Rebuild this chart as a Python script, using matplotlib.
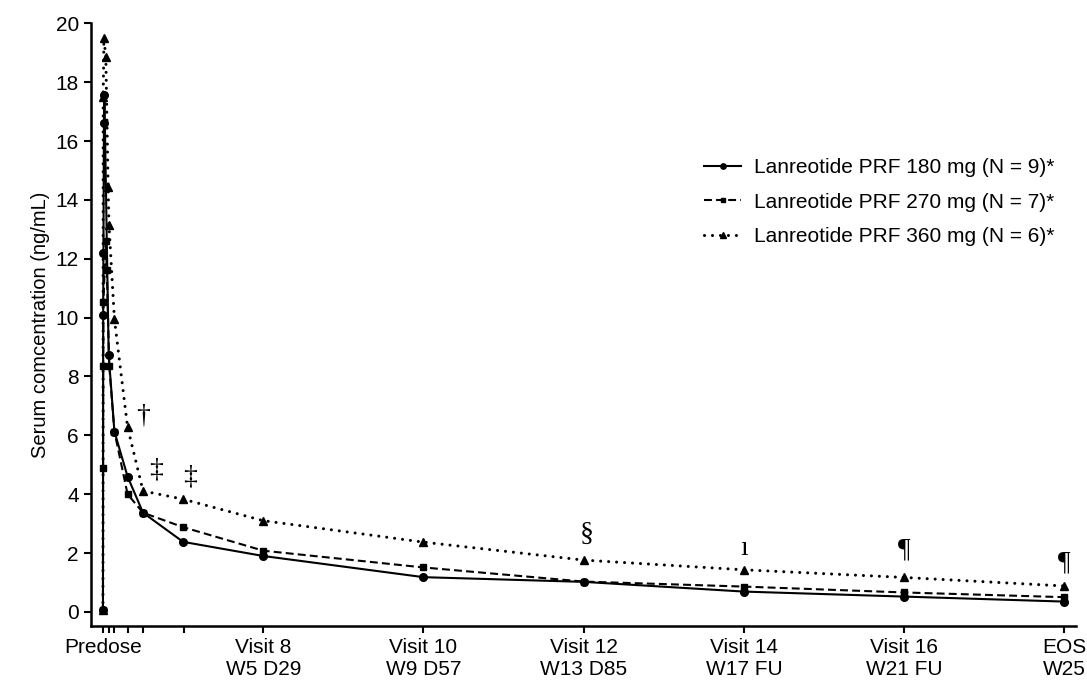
import matplotlib.pyplot as plt

plt.rcParams['font.family'] = ['Liberation Sans', 'DejaVu Sans']

# time in days after dose (0 = predose)
t_180 = [0, 0.04, 0.08, 0.17, 0.25, 1, 2, 4.3, 7, 14, 28, 56, 84, 112, 140, 168]
c_180 = [0.05, 10.1, 12.2, 16.6, 17.57, 8.73, 6.13, 4.6, 3.37, 2.38, 1.9, 1.18, 1.02, 0.69, 0.52, 0.35]

t_270 = [0, 0.02, 0.04, 0.08, 0.5, 0.67, 1.1, 2, 4.3, 7, 14, 28, 56, 84, 112, 140, 168]
c_270 = [0.07, 4.9, 8.36, 10.54, 12.62, 11.62, 8.36, 6.13, 4.0, 3.37, 2.88, 2.08, 1.51, 1.03, 0.86, 0.66, 0.5]

t_360 = [0, 0.04, 0.17, 0.5, 0.9, 1.05, 2, 4.3, 7, 14, 28, 56, 84, 112, 140, 168]
c_360 = [0.05, 17.5, 19.49, 18.85, 14.43, 13.15, 9.95, 6.28, 4.11, 3.83, 3.1, 2.37, 1.76, 1.43, 1.17, 0.88]

labels = ['Lanreotide PRF 180 mg (N = 9)*',
          'Lanreotide PRF 270 mg (N = 7)*',
          'Lanreotide PRF 360 mg (N = 6)*']

tick_pos = [0, 1, 2, 4.3, 7, 14.2, 28, 56, 84, 112, 140, 168]
tick_lab = ['Predose', '', '', '', '', '', 'Visit 8\nW5 D29', 'Visit 10\nW9 D57',
            'Visit 12\nW13 D85', 'Visit 14\nW17 FU', 'Visit 16\nW21 FU', 'EOS\nW25']

# footnote symbols: (day, value, symbol)
notes_x = [7, 9.3, 15.2, 84.5, 112, 140, 168]
notes_y = [6.64, 4.82, 4.6, 2.62, 2.16, 2.1, 1.67]
notes_s = ['\u2020', '\u2021', '\u2021', '\u00a7', '\u0131', '\u00b6', '\u00b6']

fig = plt.figure(figsize=(10.87, 6.87), dpi=100)
ax = fig.add_axes([0.0834, 0.0892, 0.9064, 0.8768])

ax.plot(t_180, c_180, color='black', lw=1.5, ls='-', marker='o', ms=5.5,
        label=labels[0])
ax.plot(t_270, c_270, color='black', lw=1.5, ls=(0, (3.8, 2)), marker='s', ms=5,
        label=labels[1])
ax.plot(t_360, c_360, color='black', lw=2.2, ls=(0, (0.01, 2.6)), marker='^', ms=6,
        dash_capstyle='round', label=labels[2])

for x, y, s in zip(notes_x, notes_y, notes_s):
    ax.text(x, y, s, ha='center', va='center', fontsize=20,
            family=['Liberation Serif', 'DejaVu Serif'])

ax.set_xlim(-2.15, 170)
ax.set_ylim(-0.47, 20)
ax.set_yticks(range(0, 21, 2))
ax.set_xticks(tick_pos)
ax.set_xticklabels(tick_lab)
ax.tick_params(labelsize=15, width=1.5, length=5, direction='out')
ax.set_ylabel('Serum comcentration (ng/mL)', fontsize=14.5, labelpad=4)

for sp in ['top', 'right']:
    ax.spines[sp].set_visible(False)
for sp in ['left', 'bottom']:
    ax.spines[sp].set_linewidth(1.8)

leg = ax.legend(loc='upper left', bbox_to_anchor=(0.614, 0.79), frameon=False,
                fontsize=15, handlelength=1.8, handletextpad=0.6, labelspacing=0.74,
                markerscale=0.7, borderaxespad=0)

fig.savefig('out.png', dpi=100)
